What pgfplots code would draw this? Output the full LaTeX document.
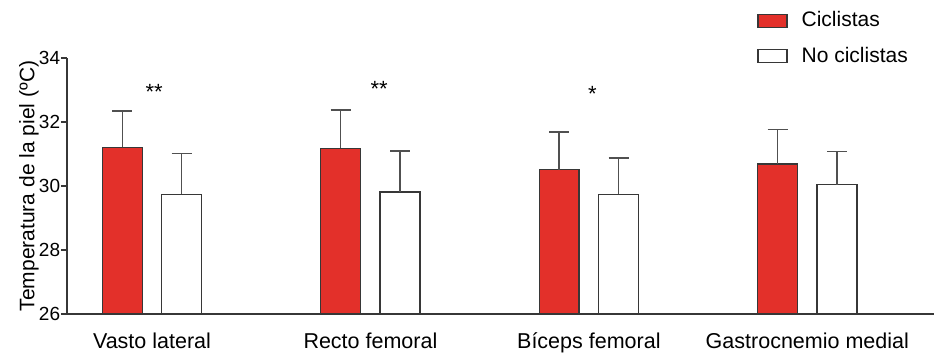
\documentclass[border=0pt]{standalone}
\usepackage{fontspec}
\setmainfont{Liberation Sans}
\usepackage{pgfplots}
\pgfplotsset{compat=1.18}
\definecolor{barred}{RGB}{227,48,42}
\definecolor{edge}{RGB}{55,55,55}
\definecolor{errc}{RGB}{80,80,80}
\begin{document}
\fontsize{20}{24}\selectfont
\begin{tikzpicture}
\useasboundingbox (-67pt,-40pt) rectangle (869pt,314pt);
\begin{axis}[
  at={(0pt,0pt)}, anchor=south west,
  scale only axis, width=867pt, height=256pt,
  xmin=-0.389, xmax=3.58, ymin=26, ymax=34,
  axis x line*=bottom, axis y line*=left,
  axis line style={-, edge, line width=1.3pt},
  xtick={0,1,2,3},
  xticklabels={Vasto lateral, Recto femoral, Bíceps femoral, Gastrocnemio medial},
  x tick style={draw=none},
  xticklabel style={font=\fontsize{21.5}{25}\selectfont, yshift=-6pt},
  ytick={26,28,30,32,34},
  y tick style={draw=edge, line width=1.3pt},
  major tick length=6pt,
  tick align=outside,
  yticklabel style={font=\fontsize{19}{23}\selectfont, xshift=6pt},
  /pgf/number format/assume math mode=true,
  ylabel={Temperatura de la piel (ºC)},
  ylabel style={font=\fontsize{21}{25}\selectfont, at={(rel axis cs:-0.044,0.5)}, anchor=center},
  bar width=0.183,
  legend style={draw=none, fill=none, at={(rel axis cs:0.796,1.19)}, anchor=north west,
    font=\fontsize{21}{25}\selectfont, row sep=13pt, column sep=12pt, inner sep=0pt},
  legend cell align=left,
  legend image code/.code={\path[draw,fill,#1] (0pt,-6.5pt) rectangle (29pt,6.5pt);},
  clip=false,
]
\addplot[ybar, bar shift=0pt, fill=barred, draw=edge, line width=1.3pt,
  error bars/.cd, y dir=plus, y explicit,
  error bar style={errc, line width=1.5pt},
  error mark options={errc, line width=1.5pt, mark size=10pt, rotate=90}]
  coordinates {(-0.136,31.21) +- (0,1.14) (0.864,31.18) +- (0,1.19) (1.864,30.51) +- (0,1.18) (2.864,30.69) +- (0,1.08)};
\addlegendentry{Ciclistas}
\addplot[ybar, bar shift=0pt, fill=white, draw=edge, line width=1.3pt,
  error bars/.cd, y dir=plus, y explicit,
  error bar style={errc, line width=1.5pt},
  error mark options={errc, line width=1.5pt, mark size=10pt, rotate=90}]
  coordinates {(0.136,29.74) +- (0,1.28) (1.136,29.81) +- (0,1.29) (2.136,29.74) +- (0,1.13) (3.136,30.04) +- (0,1.04)};
\addlegendentry{No ciclistas}
\node[anchor=center, font=\fontsize{22}{26}\selectfont] at (axis cs:0.01,32.94) {**};
\node[anchor=center, font=\fontsize{22}{26}\selectfont] at (axis cs:1.04,33.02) {**};
\node[anchor=center, font=\fontsize{22}{26}\selectfont] at (axis cs:2.016,32.88) {*};
\end{axis}
\end{tikzpicture}
\end{document}
